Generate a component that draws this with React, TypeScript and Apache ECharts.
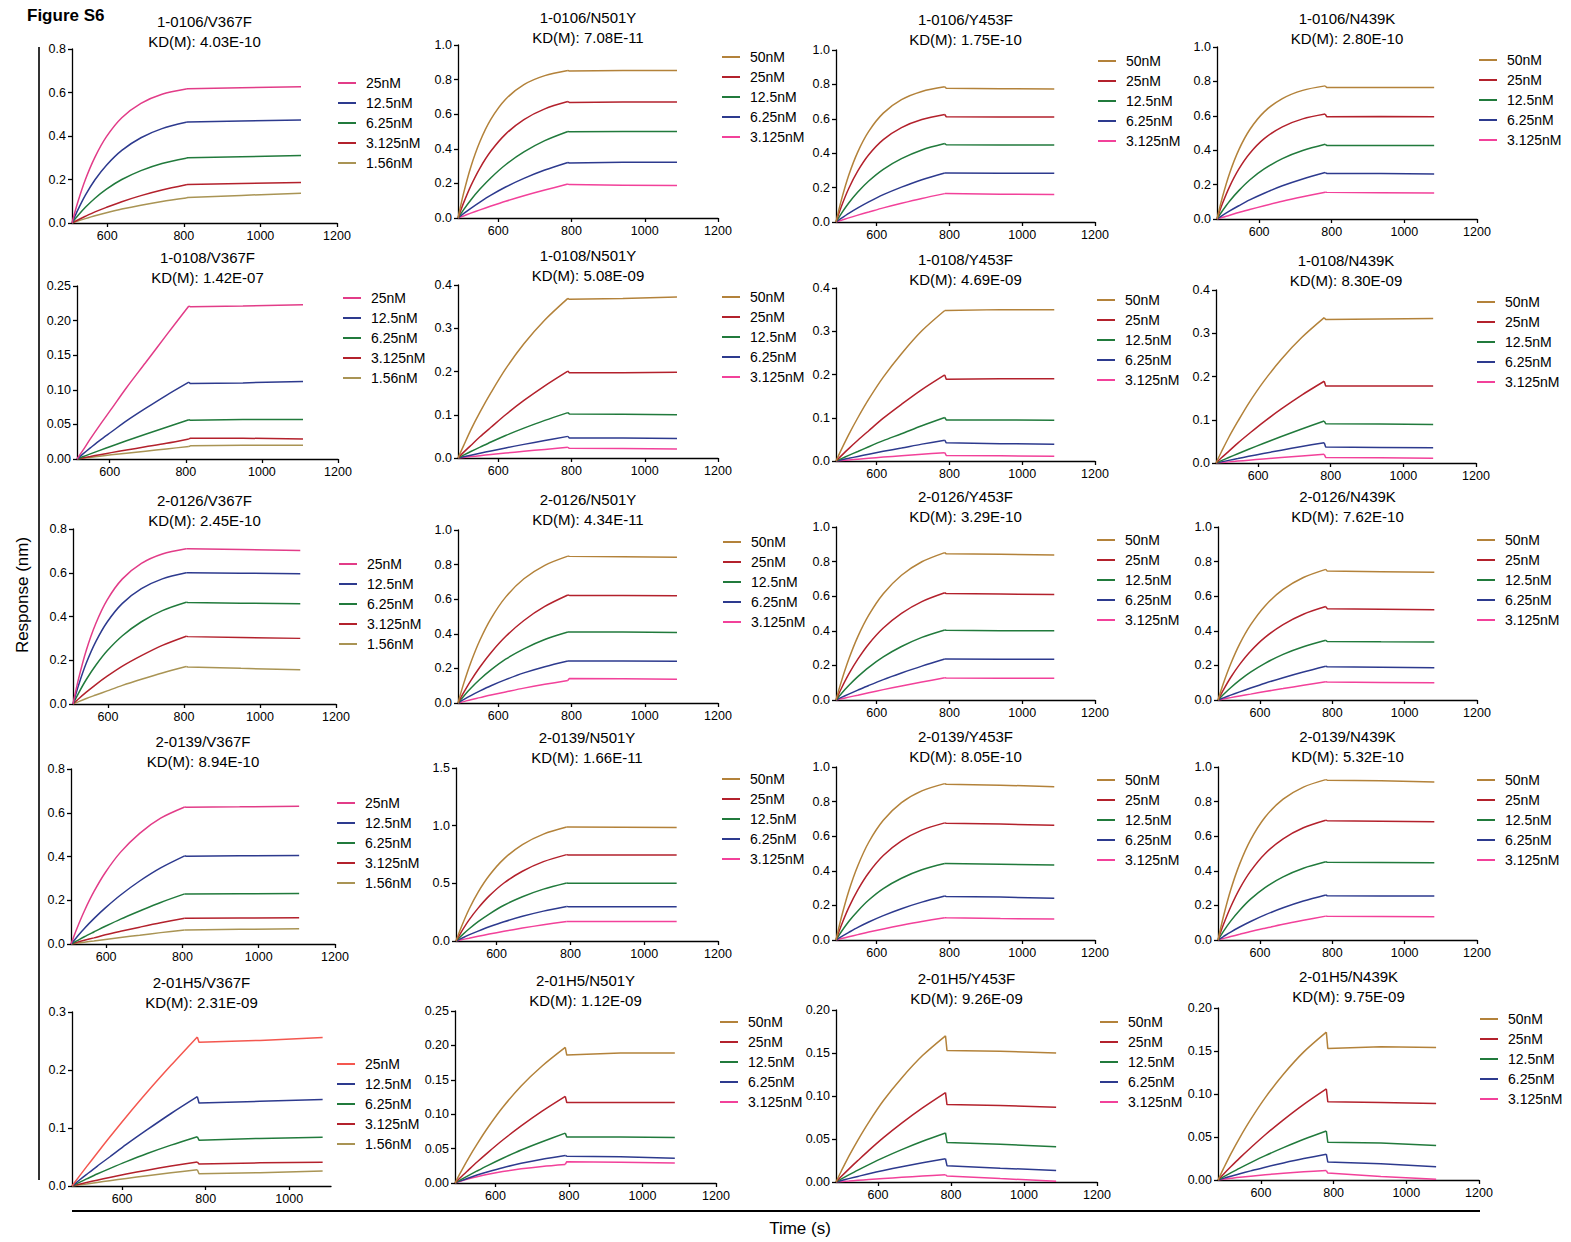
import React, { useEffect, useRef } from "react";
import * as echarts from "echarts";

// ---------- DATA ----------
const CONC_A = ["25nM", "12.5nM", "6.25nM", "3.125nM", "1.56nM"];
const CONC_B = ["50nM", "25nM", "12.5nM", "6.25nM", "3.125nM"];

const PANEL_NAMES = [
  "1-0106/V367F", "1-0106/N501Y", "1-0106/Y453F", "1-0106/N439K",
  "1-0108/V367F", "1-0108/N501Y", "1-0108/Y453F", "1-0108/N439K",
  "2-0126/V367F", "2-0126/N501Y", "2-0126/Y453F", "2-0126/N439K",
  "2-0139/V367F", "2-0139/N501Y", "2-0139/Y453F", "2-0139/N439K",
  "2-01H5/V367F", "2-01H5/N501Y", "2-01H5/Y453F", "2-01H5/N439K",
];
const PANEL_KD = [
  "4.03E-10", "7.08E-11", "1.75E-10", "2.80E-10",
  "1.42E-07", "5.08E-09", "4.69E-09", "8.30E-09",
  "2.45E-10", "4.34E-11", "3.29E-10", "7.62E-10",
  "8.94E-10", "1.66E-11", "8.05E-10", "5.32E-10",
  "2.31E-09", "1.12E-09", "9.26E-09", "9.75E-09",
];

// time samples (s): association start ... association end, then dissociation
const T_C1 = [508, 523, 543, 568, 598, 638, 688, 743, 806, 810, 950, 1106];
const T_C2 = [490, 505, 525, 550, 580, 620, 670, 727, 790, 794, 940, 1088];
const T_C3 = [488, 503, 523, 548, 578, 618, 668, 724, 787, 791, 940, 1088];
const T_C4 = [484, 499, 519, 544, 574, 614, 664, 720, 782, 786, 935, 1082];
const T_P10 = [514, 529, 549, 574, 604, 644, 694, 749, 808, 812, 950, 1108];
const T_P40 = [480, 495, 515, 540, 570, 610, 660, 717, 780, 784, 930, 1080];
const T_P42 = [485, 500, 520, 545, 575, 615, 665, 722, 785, 789, 935, 1088];
const T_P43 = [482, 497, 517, 542, 572, 612, 662, 718, 780, 784, 930, 1082];

const V_P00 = [
  [0, 0.095, 0.2, 0.303, 0.397, 0.484, 0.55, 0.592, 0.616, 0.617, 0.622, 0.627],
  [0, 0.059, 0.128, 0.199, 0.266, 0.334, 0.392, 0.434, 0.463, 0.464, 0.469, 0.474],
  [0, 0.033, 0.072, 0.114, 0.156, 0.2, 0.241, 0.274, 0.298, 0.3, 0.305, 0.31],
  [0, 0.014, 0.031, 0.051, 0.072, 0.098, 0.126, 0.152, 0.176, 0.177, 0.182, 0.186],
  [0, 0.009, 0.02, 0.033, 0.047, 0.064, 0.082, 0.099, 0.115, 0.117, 0.127, 0.137],
];
const V_P01 = [
  [0, 0.141, 0.295, 0.442, 0.571, 0.686, 0.771, 0.823, 0.852, 0.85, 0.852, 0.852],
  [0, 0.086, 0.186, 0.289, 0.387, 0.485, 0.569, 0.631, 0.673, 0.668, 0.67, 0.67],
  [0, 0.047, 0.104, 0.167, 0.233, 0.308, 0.382, 0.447, 0.5, 0.499, 0.5, 0.5],
  [0, 0.025, 0.056, 0.092, 0.132, 0.179, 0.229, 0.277, 0.321, 0.318, 0.322, 0.322],
  [0, 0.012, 0.028, 0.047, 0.069, 0.097, 0.129, 0.162, 0.196, 0.193, 0.19, 0.188],
];
const V_P02 = [
  [0, 0.13, 0.272, 0.408, 0.527, 0.633, 0.711, 0.759, 0.786, 0.777, 0.775, 0.773],
  [0, 0.092, 0.195, 0.297, 0.391, 0.479, 0.549, 0.596, 0.625, 0.612, 0.611, 0.61],
  [0, 0.05, 0.11, 0.174, 0.238, 0.306, 0.368, 0.419, 0.456, 0.449, 0.448, 0.447],
  [0, 0.022, 0.05, 0.082, 0.117, 0.159, 0.203, 0.246, 0.285, 0.285, 0.284, 0.283],
  [0, 0.01, 0.024, 0.04, 0.058, 0.082, 0.109, 0.137, 0.165, 0.165, 0.162, 0.16],
];
const V_P03 = [
  [0, 0.128, 0.268, 0.402, 0.519, 0.623, 0.7, 0.748, 0.774, 0.764, 0.765, 0.764],
  [0, 0.09, 0.19, 0.29, 0.381, 0.467, 0.536, 0.582, 0.61, 0.595, 0.596, 0.595],
  [0, 0.048, 0.105, 0.165, 0.227, 0.291, 0.351, 0.398, 0.434, 0.428, 0.428, 0.427],
  [0, 0.021, 0.047, 0.077, 0.111, 0.15, 0.193, 0.233, 0.27, 0.265, 0.264, 0.261],
  [0, 0.01, 0.022, 0.038, 0.055, 0.077, 0.103, 0.129, 0.156, 0.155, 0.153, 0.151],
];
const V_P10 = [
  [0, 0.012, 0.029, 0.049, 0.072, 0.103, 0.139, 0.179, 0.221, 0.22, 0.221, 0.223],
  [0, 0.007, 0.016, 0.027, 0.039, 0.055, 0.073, 0.092, 0.111, 0.109, 0.11, 0.112],
  [0, 0.0032, 0.0074, 0.0125, 0.0185, 0.0263, 0.0357, 0.0458, 0.0566, 0.056, 0.057, 0.057],
  [0, 0.0016, 0.0036, 0.0062, 0.0092, 0.013, 0.0176, 0.0227, 0.029, 0.03, 0.03, 0.029],
  [0, 0.001, 0.0023, 0.004, 0.006, 0.0084, 0.0113, 0.0146, 0.018, 0.019, 0.02, 0.02],
];
const V_P11 = [
  [0, 0.028, 0.065, 0.106, 0.151, 0.206, 0.264, 0.319, 0.369, 0.367, 0.369, 0.372],
  [0, 0.013, 0.029, 0.049, 0.071, 0.1, 0.133, 0.167, 0.201, 0.197, 0.197, 0.198],
  [0, 0.0066, 0.015, 0.025, 0.037, 0.052, 0.069, 0.087, 0.105, 0.102, 0.101, 0.1],
  [0, 0.0028, 0.0065, 0.011, 0.0164, 0.0233, 0.0315, 0.0405, 0.05, 0.046, 0.046, 0.045],
  [0, 0.0014, 0.0032, 0.0054, 0.008, 0.0114, 0.0155, 0.0199, 0.0246, 0.0225, 0.022, 0.021],
];
const V_P12 = [
  [0, 0.027, 0.061, 0.1, 0.143, 0.194, 0.248, 0.301, 0.348, 0.348, 0.35, 0.35],
  [0, 0.0125, 0.0287, 0.048, 0.07, 0.099, 0.131, 0.165, 0.199, 0.189, 0.19, 0.19],
  [0, 0.0056, 0.013, 0.022, 0.033, 0.047, 0.063, 0.0815, 0.1006, 0.095, 0.095, 0.094],
  [0, 0.0027, 0.0062, 0.0106, 0.0157, 0.0223, 0.03, 0.039, 0.048, 0.042, 0.04, 0.039],
  [0, 0.0011, 0.0025, 0.0042, 0.0063, 0.009, 0.0122, 0.0156, 0.0193, 0.013, 0.012, 0.011],
];
const V_P13 = [
  [0, 0.026, 0.059, 0.096, 0.138, 0.187, 0.24, 0.29, 0.336, 0.332, 0.333, 0.334],
  [0, 0.012, 0.027, 0.046, 0.067, 0.094, 0.125, 0.157, 0.189, 0.178, 0.178, 0.178],
  [0, 0.0054, 0.0126, 0.0213, 0.0317, 0.0451, 0.0611, 0.0786, 0.097, 0.091, 0.09, 0.089],
  [0, 0.0026, 0.0061, 0.0103, 0.0154, 0.0219, 0.0296, 0.0381, 0.047, 0.037, 0.036, 0.035],
  [0, 0.0011, 0.0026, 0.0044, 0.0065, 0.0093, 0.0126, 0.0162, 0.02, 0.013, 0.012, 0.011],
];
const V_P20 = [
  [0, 0.118, 0.246, 0.368, 0.476, 0.572, 0.643, 0.686, 0.71, 0.71, 0.706, 0.702],
  [0, 0.088, 0.187, 0.285, 0.375, 0.46, 0.527, 0.572, 0.6, 0.6, 0.598, 0.595],
  [0, 0.051, 0.112, 0.177, 0.243, 0.312, 0.376, 0.427, 0.465, 0.464, 0.461, 0.458],
  [0, 0.024, 0.054, 0.089, 0.127, 0.173, 0.221, 0.268, 0.31, 0.308, 0.304, 0.3],
  [0, 0.011, 0.025, 0.041, 0.06, 0.085, 0.113, 0.142, 0.171, 0.169, 0.163, 0.157],
];
const V_P21 = [
  [0, 0.109, 0.234, 0.364, 0.488, 0.612, 0.718, 0.796, 0.849, 0.848, 0.846, 0.842],
  [0, 0.058, 0.129, 0.208, 0.291, 0.384, 0.477, 0.558, 0.624, 0.622, 0.621, 0.62],
  [0, 0.038, 0.085, 0.137, 0.191, 0.253, 0.313, 0.367, 0.41, 0.41, 0.41, 0.408],
  [0, 0.019, 0.043, 0.07, 0.1, 0.135, 0.174, 0.21, 0.243, 0.243, 0.243, 0.242],
  [0, 0.008, 0.019, 0.031, 0.046, 0.064, 0.086, 0.108, 0.13, 0.142, 0.14, 0.138],
];
const V_P22 = [
  [0, 0.109, 0.235, 0.366, 0.49, 0.614, 0.721, 0.799, 0.852, 0.845, 0.842, 0.838],
  [0, 0.068, 0.149, 0.236, 0.324, 0.416, 0.501, 0.569, 0.62, 0.615, 0.612, 0.61],
  [0, 0.038, 0.084, 0.135, 0.189, 0.249, 0.309, 0.362, 0.405, 0.403, 0.401, 0.4],
  [0, 0.015, 0.034, 0.057, 0.084, 0.118, 0.156, 0.196, 0.237, 0.237, 0.236, 0.235],
  [0, 0.0072, 0.0166, 0.028, 0.042, 0.06, 0.081, 0.104, 0.128, 0.127, 0.126, 0.126],
];
const V_P23 = [
  [0, 0.097, 0.208, 0.324, 0.434, 0.544, 0.639, 0.708, 0.755, 0.745, 0.742, 0.738],
  [0, 0.059, 0.13, 0.206, 0.282, 0.362, 0.436, 0.496, 0.54, 0.528, 0.525, 0.522],
  [0, 0.032, 0.071, 0.115, 0.161, 0.212, 0.264, 0.308, 0.345, 0.338, 0.336, 0.335],
  [0, 0.012, 0.028, 0.047, 0.069, 0.097, 0.129, 0.162, 0.195, 0.192, 0.19, 0.187],
  [0, 0.0059, 0.0137, 0.023, 0.034, 0.049, 0.066, 0.085, 0.105, 0.104, 0.101, 0.099],
];
const V_P30 = [
  [0, 0.069, 0.151, 0.239, 0.327, 0.42, 0.506, 0.575, 0.626, 0.625, 0.627, 0.63],
  [0, 0.031, 0.071, 0.116, 0.165, 0.224, 0.288, 0.348, 0.403, 0.401, 0.403, 0.405],
  [0, 0.014, 0.033, 0.055, 0.081, 0.114, 0.151, 0.19, 0.229, 0.229, 0.23, 0.231],
  [0, 0.0074, 0.0169, 0.028, 0.042, 0.058, 0.077, 0.097, 0.1175, 0.118, 0.119, 0.12],
  [0, 0.0036, 0.0083, 0.014, 0.021, 0.03, 0.04, 0.052, 0.064, 0.064, 0.067, 0.07],
];
const V_P31 = [
  [0, 0.126, 0.273, 0.424, 0.568, 0.712, 0.836, 0.927, 0.988, 0.988, 0.987, 0.985],
  [0, 0.082, 0.181, 0.285, 0.391, 0.503, 0.605, 0.688, 0.749, 0.746, 0.746, 0.745],
  [0, 0.047, 0.104, 0.168, 0.234, 0.31, 0.384, 0.45, 0.503, 0.5, 0.5, 0.5],
  [0, 0.023, 0.053, 0.086, 0.123, 0.167, 0.214, 0.259, 0.3, 0.298, 0.297, 0.296],
  [0, 0.011, 0.024, 0.041, 0.06, 0.084, 0.112, 0.141, 0.17, 0.17, 0.17, 0.169],
];
const V_P32 = [
  [0, 0.133, 0.282, 0.429, 0.565, 0.692, 0.794, 0.862, 0.904, 0.9, 0.895, 0.886],
  [0, 0.087, 0.187, 0.29, 0.389, 0.488, 0.573, 0.635, 0.677, 0.675, 0.67, 0.664],
  [0, 0.049, 0.107, 0.168, 0.231, 0.297, 0.357, 0.406, 0.442, 0.442, 0.438, 0.434],
  [0, 0.02, 0.044, 0.073, 0.104, 0.141, 0.181, 0.219, 0.254, 0.252, 0.248, 0.242],
  [0, 0.0081, 0.0186, 0.031, 0.046, 0.064, 0.085, 0.107, 0.129, 0.128, 0.124, 0.121],
];
const V_P33 = [
  [0, 0.136, 0.289, 0.44, 0.579, 0.71, 0.814, 0.884, 0.927, 0.924, 0.92, 0.914],
  [0, 0.089, 0.191, 0.297, 0.398, 0.499, 0.585, 0.649, 0.692, 0.69, 0.687, 0.683],
  [0, 0.05, 0.109, 0.172, 0.236, 0.303, 0.365, 0.415, 0.452, 0.45, 0.448, 0.446],
  [0, 0.02, 0.046, 0.075, 0.107, 0.145, 0.186, 0.225, 0.26, 0.256, 0.255, 0.254],
  [0, 0.0087, 0.02, 0.033, 0.049, 0.068, 0.091, 0.114, 0.138, 0.137, 0.136, 0.135],
];
const V_P40 = [
  [0, 0.0144, 0.0334, 0.0565, 0.084, 0.1195, 0.162, 0.208, 0.257, 0.248, 0.251, 0.256],
  [0, 0.0086, 0.02, 0.034, 0.05, 0.0716, 0.097, 0.125, 0.154, 0.143, 0.146, 0.149],
  [0, 0.0054, 0.0122, 0.0206, 0.03, 0.042, 0.056, 0.0705, 0.085, 0.079, 0.082, 0.084],
  [0, 0.0026, 0.006, 0.01, 0.0147, 0.0206, 0.0273, 0.0344, 0.0415, 0.038, 0.04, 0.041],
  [0, 0.0016, 0.0036, 0.0062, 0.0092, 0.013, 0.0176, 0.0227, 0.028, 0.021, 0.023, 0.026],
];
const V_P41 = [
  [0, 0.0152, 0.0345, 0.0565, 0.081, 0.11, 0.141, 0.17, 0.197, 0.186, 0.189, 0.189],
  [0, 0.0079, 0.018, 0.0305, 0.0446, 0.0625, 0.083, 0.1045, 0.126, 0.117, 0.117, 0.117],
  [0, 0.0046, 0.0104, 0.0175, 0.0257, 0.036, 0.048, 0.06, 0.0725, 0.067, 0.067, 0.066],
  [0, 0.0031, 0.007, 0.0115, 0.0164, 0.0223, 0.0286, 0.0346, 0.04, 0.039, 0.038, 0.036],
  [0, 0.0025, 0.0056, 0.009, 0.0126, 0.0166, 0.0206, 0.0241, 0.027, 0.031, 0.03, 0.029],
];
const V_P42 = [
  [0, 0.0131, 0.0298, 0.0488, 0.0697, 0.0947, 0.121, 0.147, 0.17, 0.153, 0.152, 0.15],
  [0, 0.0066, 0.015, 0.025, 0.0368, 0.0516, 0.0685, 0.0862, 0.104, 0.09, 0.089, 0.087],
  [0, 0.0036, 0.0082, 0.0138, 0.0202, 0.0283, 0.0376, 0.0473, 0.057, 0.046, 0.044, 0.041],
  [0, 0.0017, 0.0039, 0.0065, 0.0096, 0.0134, 0.0178, 0.0224, 0.027, 0.019, 0.016, 0.0135],
  [0, 0.0005, 0.0011, 0.0019, 0.0028, 0.004, 0.0054, 0.0069, 0.0085, 0.007, 0.004, 0.001],
];
const V_P43 = [
  [0, 0.0132, 0.0301, 0.0494, 0.0705, 0.0958, 0.123, 0.149, 0.172, 0.153, 0.155, 0.154],
  [0, 0.0067, 0.0153, 0.0257, 0.0375, 0.0526, 0.07, 0.088, 0.106, 0.091, 0.09, 0.089],
  [0, 0.0036, 0.0082, 0.0138, 0.0202, 0.0283, 0.0376, 0.0473, 0.057, 0.044, 0.043, 0.04],
  [0, 0.0019, 0.0043, 0.0073, 0.0106, 0.0149, 0.0198, 0.0249, 0.03, 0.021, 0.019, 0.0155],
  [0, 0.0008, 0.0019, 0.0032, 0.0045, 0.0061, 0.0079, 0.0095, 0.011, 0.008, 0.004, 0.001],
];

const PANEL_TIMES = [
  T_C1, T_C2, T_C3, T_C4,
  T_P10, T_C2, T_C3, T_C4,
  T_C1, T_C2, T_C3, T_C4,
  T_C1, T_C2, T_C3, T_C4,
  T_P40, T_C2, T_P42, T_P43,
];
const PANEL_VALUES = [
  V_P00, V_P01, V_P02, V_P03,
  V_P10, V_P11, V_P12, V_P13,
  V_P20, V_P21, V_P22, V_P23,
  V_P30, V_P31, V_P32, V_P33,
  V_P40, V_P41, V_P42, V_P43,
];
const X_TICKS = [600, 800, 1000, 1200];
const X_TICKS_SHORT = [600, 800, 1000];

// ---------- LAYOUT / STYLE ----------
// [left, right, top, bottom, xmin, xmax, ymax, yInterval, titleY, legendX, legendY]
const LAYOUT = [
  [72, 337, 49, 223, 508, 1200, 0.8, 0.2, 21, 338, 83],
  [458, 718, 45, 218, 490, 1200, 1.0, 0.2, 17, 722, 57],
  [836, 1095, 50, 222, 488, 1200, 1.0, 0.2, 19, 1098, 61],
  [1217, 1477, 47, 219, 484, 1200, 1.0, 0.2, 18, 1479, 60],
  [77, 338, 286, 459, 514, 1200, 0.25, 0.05, 257, 343, 298],
  [458, 718, 285, 458, 490, 1200, 0.4, 0.1, 255, 722, 297],
  [836, 1095, 288, 461, 488, 1200, 0.4, 0.1, 259, 1097, 300],
  [1216, 1476, 290, 463, 484, 1200, 0.4, 0.1, 260, 1477, 302],
  [73, 336, 529, 704, 508, 1200, 0.8, 0.2, 500, 339, 564],
  [458, 718, 530, 703, 490, 1200, 1.0, 0.2, 499, 723, 542],
  [836, 1095, 527, 700, 488, 1200, 1.0, 0.2, 496, 1097, 540],
  [1218, 1477, 527, 700, 484, 1200, 1.0, 0.2, 496, 1477, 540],
  [71, 335, 769, 944, 508, 1200, 0.8, 0.2, 741, 337, 803],
  [456, 718, 768, 941, 490, 1200, 1.5, 0.5, 737, 722, 779],
  [836, 1095, 767, 940, 488, 1200, 1.0, 0.2, 736, 1097, 780],
  [1218, 1477, 767, 940, 484, 1200, 1.0, 0.2, 736, 1477, 780],
  [72, 331, 1012, 1186, 480, 1100, 0.3, 0.1, 982, 337, 1064],
  [455, 716, 1011, 1183, 490, 1200, 0.25, 0.05, 980, 720, 1022],
  [836, 1097, 1010, 1182, 485, 1200, 0.2, 0.05, 978, 1100, 1022],
  [1218, 1479, 1008, 1180, 482, 1200, 0.2, 0.05, 976, 1480, 1019],
];

const FONT = "'Liberation Sans', Arial, Helvetica, sans-serif";
const COLORS_A = ["#e23c88", "#2d3a8e", "#217a3c", "#b3212c", "#a99454"];
const COLORS_A_P40 = ["#f4574f", "#2d3a8e", "#217a3c", "#b3212c", "#a99454"];
const COLORS_B = ["#b3823a", "#b3212c", "#217a3c", "#2d3a8e", "#f2419a"];

function buildOption() {
  const grid: any[] = [];
  const xAxis: any[] = [];
  const yAxis: any[] = [];
  const series: any[] = [];
  const legend: any[] = [];
  const graphic: any[] = [];

  PANEL_NAMES.forEach((pname, i) => {
    const L = LAYOUT[i];
    const col = i % 4;
    const concs = col === 0 ? CONC_A : CONC_B;
    const colors = i === 16 ? COLORS_A_P40 : col === 0 ? COLORS_A : COLORS_B;
    const ticks = i === 16 ? X_TICKS_SHORT : X_TICKS;
    const dec = L[7] < 0.1 ? 2 : 1;

    grid.push({ left: L[0], top: L[2], width: L[1] - L[0], height: L[3] - L[2], containLabel: false });
    xAxis.push({
      type: "value",
      gridIndex: i,
      min: L[4],
      max: L[5],
      axisLine: { show: true, onZero: false, lineStyle: { color: "#000", width: 1.3 } },
      axisTick: { show: true, length: 4, customValues: ticks, lineStyle: { color: "#000", width: 1.3 } },
      axisLabel: {
        customValues: ticks,
        fontSize: 12.5,
        color: "#000",
        margin: 6,
        fontFamily: FONT,
        formatter: (v: number) => String(v),
      },
      splitLine: { show: false },
    });
    yAxis.push({
      type: "value",
      gridIndex: i,
      min: 0,
      max: L[6],
      interval: L[7],
      axisLine: { show: true, onZero: false, lineStyle: { color: "#000", width: 1.3 } },
      axisTick: { show: true, length: 4, lineStyle: { color: "#000", width: 1.3 } },
      axisLabel: {
        fontSize: 12.5,
        color: "#000",
        margin: 6,
        fontFamily: FONT,
        formatter: (v: number) => v.toFixed(dec),
      },
      splitLine: { show: false },
    });

    const times = PANEL_TIMES[i];
    const vals = PANEL_VALUES[i];
    const names: string[] = [];
    vals.forEach((v, j) => {
      const name = `P${i}|${concs[j]}`;
      names.push(name);
      const assoc = times.slice(0, 9).map((t, k) => [t, v[k]]);
      const dissoc = times.slice(8).map((t, k) => [t, v[k + 8]]);
      const common = {
        type: "line",
        name,
        xAxisIndex: i,
        yAxisIndex: i,
        symbol: "none",
        showSymbol: false,
        silent: true,
        z: 10 - j,
        lineStyle: { color: colors[j], width: 1.5 },
        itemStyle: { color: colors[j] },
      };
      series.push({ ...common, data: assoc, smooth: 0.3 });
      series.push({ ...common, data: dissoc, smooth: false });
    });

    legend.push({
      orient: "vertical",
      left: L[9],
      top: L[10] - 8,
      padding: 0,
      itemWidth: 18,
      itemHeight: 2,
      itemGap: 4,
      icon: "rect",
      selectedMode: false,
      data: names,
      formatter: (n: string) => n.split("|")[1],
      textStyle: { fontSize: 14, lineHeight: 16, color: "#000", fontFamily: FONT, padding: [0, 0, 0, 5] },
    });

    const cx = (L[0] + L[1]) / 2;
    graphic.push({
      type: "text",
      x: cx,
      y: L[8],
      style: { text: pname, fontSize: 15, fontFamily: FONT, fill: "#000", align: "center", verticalAlign: "middle" },
    });
    graphic.push({
      type: "text",
      x: cx,
      y: L[8] + 20,
      style: { text: `KD(M): ${PANEL_KD[i]}`, fontSize: 15, fontFamily: FONT, fill: "#000", align: "center", verticalAlign: "middle" },
    });
  });

  graphic.push({
    type: "text",
    x: 27,
    y: 15,
    style: { text: "Figure S6", fontSize: 17, fontWeight: "bold", fontFamily: FONT, fill: "#000", align: "left", verticalAlign: "middle" },
  });
  graphic.push({
    type: "text",
    x: 22,
    y: 595,
    rotation: Math.PI / 2,
    style: { text: "Response (nm)", fontSize: 17, fontFamily: FONT, fill: "#000", align: "center", verticalAlign: "middle" },
  });
  graphic.push({
    type: "line",
    shape: { x1: 39, y1: 47, x2: 39, y2: 1180 },
    style: { stroke: "#333", lineWidth: 2 },
  });
  graphic.push({
    type: "line",
    shape: { x1: 72, y1: 1211, x2: 1480, y2: 1211 },
    style: { stroke: "#000", lineWidth: 2 },
  });
  graphic.push({
    type: "text",
    x: 800,
    y: 1228,
    style: { text: "Time (s)", fontSize: 17, fontFamily: FONT, fill: "#000", align: "center", verticalAlign: "middle" },
  });

  return {
    animation: false,
    backgroundColor: "#fff",
    grid,
    xAxis,
    yAxis,
    series,
    legend,
    graphic,
  };
}

export default function App() {
  const ref = useRef<HTMLDivElement>(null);
  useEffect(() => {
    if (!ref.current) return;
    const chart = echarts.init(ref.current, null, { renderer: "svg" });
    chart.setOption(buildOption() as any);
    return () => {
      chart.dispose();
    };
  }, []);
  return (
    <div
      ref={ref}
      style={{ position: "fixed", left: 0, top: 0, width: 1571, height: 1242, background: "#fff" }}
    />
  );
}
